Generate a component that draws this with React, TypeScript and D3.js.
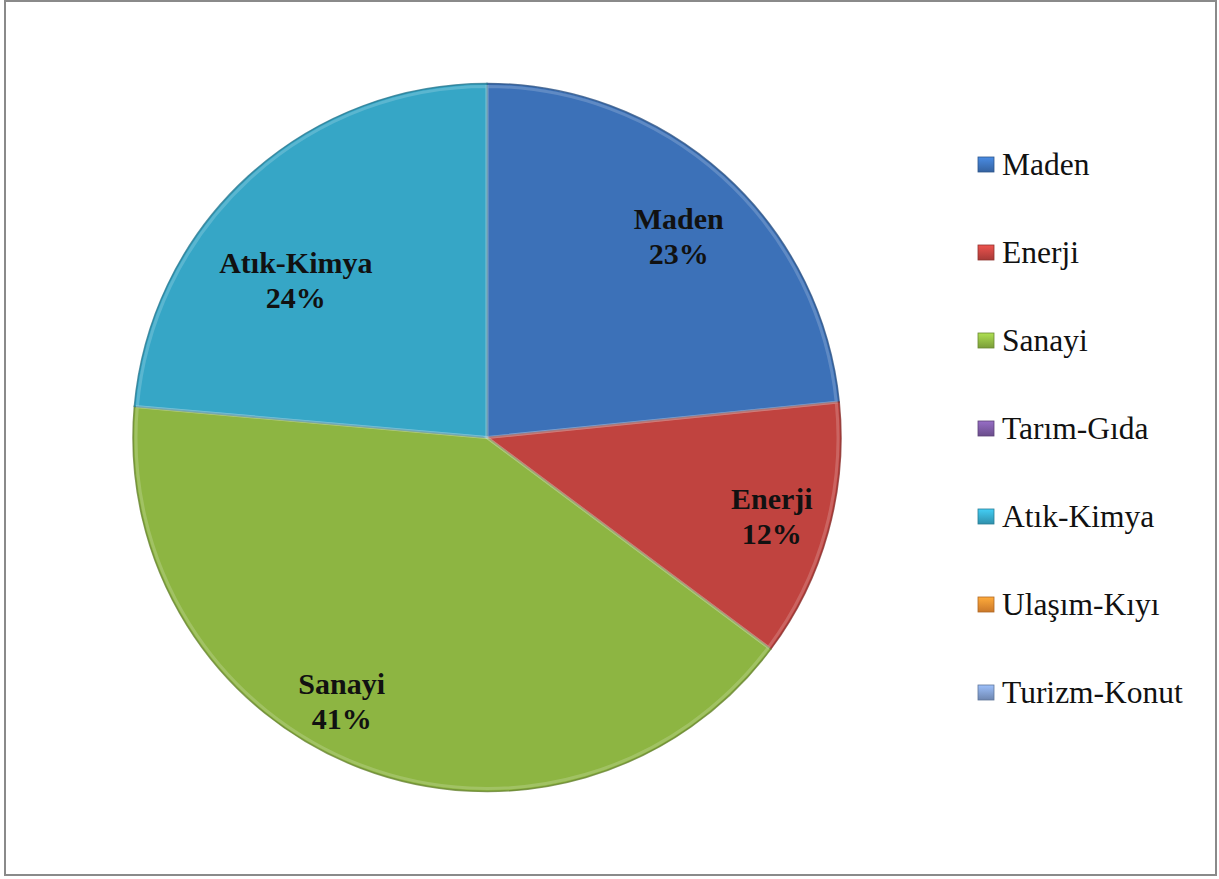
import React from "react";
import * as d3 from "d3";

const categories = ["Maden", "Enerji", "Sanayi", "Tarım-Gıda", "Atık-Kimya", "Ulaşım-Kıyı", "Turizm-Konut"];
const values = [23.4, 11.8, 41.2, 0, 23.6, 0, 0];
const colors = ["#3c71b8", "#c0433f", "#8db542", "#7a59a0", "#36a6c6", "#e98a30", "#7f9bcb"];

// best-fit label placement tweaks (angle shift in degrees, radius fraction)
const labelAngleShift = [1.5, 0, 8, 0, -8, 0, 0];
const labelRadius = [0.785, 0.835, 0.85, 0.8, 0.7, 0.8, 0.8];

const W = 1219;
const H = 879;
const cx = 487;
const cy = 437.5;
const R = 354;

export default function App() {
  const total = d3.sum(values);
  const pie = d3.pie<number>().sort(null).value((d) => d)(values);
  const arc = d3.arc<d3.PieArcDatum<number>>().innerRadius(0).outerRadius(R);
  const innerArc = d3.arc<d3.PieArcDatum<number>>().innerRadius(0).outerRadius(R - 3);
  const legendY = d3.scalePoint<string>().domain(categories).range([165, 693]);
  const font = "'Liberation Serif', 'Times New Roman', serif";

  return (
    <svg width={W} height={H} style={{ position: "absolute", left: 0, top: 0 }} viewBox={`0 0 ${W} ${H}`}>
      <defs>
        {colors.map((c, i) => (
          <linearGradient key={`l${i}`} id={`m${i}`} x1="0" y1="0" x2="0" y2="1">
            <stop offset="0%" stopColor={d3.color(c)!.brighter(0.6).toString()} />
            <stop offset="100%" stopColor={d3.color(c)!.darker(0.4).toString()} />
          </linearGradient>
        ))}
      </defs>
      <rect x={0} y={0} width={W} height={H} fill="#ffffff" />
      <rect x={5} y={1} width={W - 8} height={H - 5} fill="none" stroke="#8a8a8a" strokeWidth={2} />
      <g transform={`translate(${cx},${cy})`}>
        {pie.map((d, i) =>
          d.value > 0 ? (
            <path key={i} d={arc(d) || ""} fill={colors[i]} stroke={d3.color(colors[i])!.darker(0.9).toString()} strokeWidth={1.5} strokeOpacity={0.8} />
          ) : null
        )}
        {pie.map((d, i) =>
          d.value > 0 ? (
            <path key={`h${i}`} d={innerArc(d) || ""} fill="none" stroke="#ffffff" strokeOpacity={0.18} strokeWidth={3} />
          ) : null
        )}
        {pie.map((d, i) => {
          if (d.value <= 0) return null;
          const a = (d.startAngle + d.endAngle) / 2 + (labelAngleShift[i] * Math.PI) / 180;
          const r = R * labelRadius[i];
          const x = r * Math.sin(a);
          const y = -r * Math.cos(a);
          return (
            <text key={`t${i}`} x={x} y={y} textAnchor="middle" fontFamily={font} fontWeight="bold" fontSize={30} fill="#111">
              <tspan x={x} dy={-7}>{categories[i]}</tspan>
              <tspan x={x} dy={35}>{`${Math.round((d.value / total) * 100)}%`}</tspan>
            </text>
          );
        })}
      </g>
      <g>
        {categories.map((c, i) => {
          const y = legendY(c)!;
          return (
            <g key={c}>
              <rect x={978} y={y - 8} width={16} height={15} fill={`url(#m${i})`} stroke={d3.color(colors[i])!.darker(0.8).toString()} strokeWidth={0.8} />
              <text x={1002} y={y + 10} fontFamily={font} fontSize={31.5} fill="#111">{c}</text>
            </g>
          );
        })}
      </g>
    </svg>
  );
}
